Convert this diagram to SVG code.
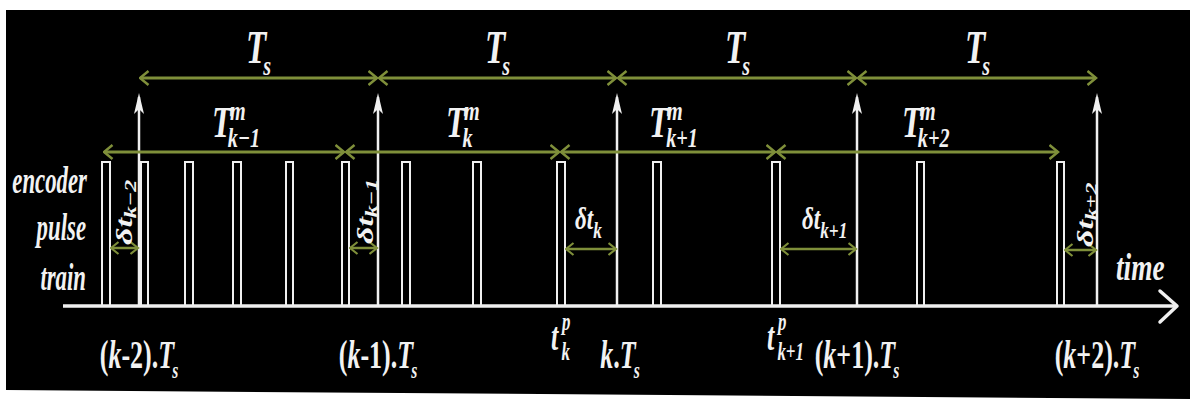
<svg xmlns="http://www.w3.org/2000/svg" width="1190" height="399" viewBox="0 0 1190 399">
<style>
.t{font-family:"Liberation Serif","Times New Roman",serif;font-weight:bold;font-style:italic;fill:#f2f2f2}
.up{font-style:normal}
.g{stroke:#7f8f3a;stroke-width:3;fill:none}
.gs{stroke:#7f8f3a;stroke-width:2.5;fill:none}
.w{stroke:#f0f0f0;fill:none}
.pulse{stroke:#f0f0f0;stroke-width:2;fill:none}
</style>
<defs>
<marker id="ga" viewBox="0 0 11 16" refX="9.5" refY="8" markerWidth="11" markerHeight="16" markerUnits="userSpaceOnUse" orient="auto-start-reverse">
<path d="M1,1 L9.5,8 L1,15" fill="none" stroke="#7f8f3a" stroke-width="2.5"/>
</marker>
<marker id="gb" viewBox="0 0 10 14" refX="8.5" refY="7" markerWidth="10" markerHeight="14" markerUnits="userSpaceOnUse" orient="auto-start-reverse">
<path d="M1,1 L8.5,7 L1,13" fill="none" stroke="#7f8f3a" stroke-width="2.2"/>
</marker>
<marker id="wa" viewBox="0 0 22 12" refX="17" refY="6" markerWidth="22" markerHeight="12" markerUnits="userSpaceOnUse" orient="auto">
<path d="M0,1 L21,6 L0,11 L5,6 Z" fill="#f0f0f0"/>
</marker>
</defs>
<rect x="0" y="0" width="1190" height="399" fill="#ffffff"/>
<polygon points="6,10 1190,10 1190,399 6,390" fill="#000000"/>

<g id="pulses">
<path class="pulse" d="M102,306 V162 H110 V306"/>
<path class="pulse" d="M141,306 V162 H148 V306"/>
<path class="pulse" d="M185,306 V162 H193 V306"/>
<path class="pulse" d="M233,306 V162 H241 V306"/>
<path class="pulse" d="M286,306 V162 H293 V306"/>
<path class="pulse" d="M342,306 V162 H349 V306"/>
<path class="pulse" d="M402,306 V162 H410 V306"/>
<path class="pulse" d="M473,306 V162 H481 V306"/>
<path class="pulse" d="M557,306 V162 H565 V306"/>
<path class="pulse" d="M653,306 V162 H661 V306"/>
<path class="pulse" d="M772,306 V162 H780 V306"/>
<path class="pulse" d="M917,306 V162 H924 V306"/>
<path class="pulse" d="M1057,306 V162 H1064 V306"/>
</g>

<g id="connectors">
<line class="w" x1="63" y1="306" x2="1176" y2="306" stroke-width="3.5"/>
<path class="w" d="M1160,291 L1177,306 L1160,322" stroke-width="3.5" stroke-linecap="round" stroke-linejoin="round"/>
<line class="w" x1="139" y1="306" x2="139" y2="97" stroke-width="2.5" marker-end="url(#wa)"/>
<line class="w" x1="378" y1="306" x2="378" y2="97" stroke-width="2.5" marker-end="url(#wa)"/>
<line class="w" x1="617" y1="306" x2="617" y2="97" stroke-width="2.5" marker-end="url(#wa)"/>
<line class="w" x1="857" y1="306" x2="857" y2="97" stroke-width="2.5" marker-end="url(#wa)"/>
<line class="w" x1="1097" y1="306" x2="1097" y2="97" stroke-width="2.5" marker-end="url(#wa)"/>
<line class="g" x1="140" y1="78" x2="377" y2="78" marker-start="url(#ga)" marker-end="url(#ga)"/>
<line class="g" x1="379" y1="78" x2="616" y2="78" marker-start="url(#ga)" marker-end="url(#ga)"/>
<line class="g" x1="618" y1="78" x2="856" y2="78" marker-start="url(#ga)" marker-end="url(#ga)"/>
<line class="g" x1="858" y1="78" x2="1096" y2="78" marker-start="url(#ga)" marker-end="url(#ga)"/>
<line class="g" x1="104" y1="152" x2="344" y2="152" marker-start="url(#ga)" marker-end="url(#ga)"/>
<line class="g" x1="346" y1="152" x2="559" y2="152" marker-start="url(#ga)" marker-end="url(#ga)"/>
<line class="g" x1="561" y1="152" x2="775" y2="152" marker-start="url(#ga)" marker-end="url(#ga)"/>
<line class="g" x1="777" y1="152" x2="1058" y2="152" marker-start="url(#ga)" marker-end="url(#ga)"/>
<line class="gs" x1="111" y1="248" x2="138" y2="248" marker-start="url(#gb)" marker-end="url(#gb)"/>
<line class="gs" x1="350" y1="248" x2="377" y2="248" marker-start="url(#gb)" marker-end="url(#gb)"/>
<line class="gs" x1="566" y1="249" x2="616" y2="249" marker-start="url(#gb)" marker-end="url(#gb)"/>
<line class="gs" x1="781" y1="249" x2="856" y2="249" marker-start="url(#gb)" marker-end="url(#gb)"/>
<line class="gs" x1="1065" y1="250" x2="1096" y2="250" marker-start="url(#gb)" marker-end="url(#gb)"/>
</g>

<g id="labels-Ts">
<text class="t" font-size="46" transform="translate(246,63) scale(0.72,1)">T<tspan font-size="28" dx="-4" dy="12">s</tspan></text>
<text class="t" font-size="46" transform="translate(485,63) scale(0.72,1)">T<tspan font-size="28" dx="-4" dy="12">s</tspan></text>
<text class="t" font-size="46" transform="translate(725,63) scale(0.72,1)">T<tspan font-size="28" dx="-4" dy="12">s</tspan></text>
<text class="t" font-size="46" transform="translate(965,63) scale(0.72,1)">T<tspan font-size="28" dx="-4" dy="12">s</tspan></text>
</g>

<g id="labels-Tm">
<text class="t" font-size="44" transform="translate(212,137) scale(0.72,1)">T<tspan x="25" y="-17" font-size="28">m</tspan><tspan x="22" y="10" font-size="28">k−1</tspan></text>
<text class="t" font-size="44" transform="translate(446,137) scale(0.72,1)">T<tspan x="25" y="-17" font-size="28">m</tspan><tspan x="23" y="10" font-size="28">k</tspan></text>
<text class="t" font-size="44" transform="translate(649,137) scale(0.72,1)">T<tspan x="25" y="-17" font-size="28">m</tspan><tspan x="24" y="10" font-size="28">k+1</tspan></text>
<text class="t" font-size="44" transform="translate(902,137) scale(0.72,1)">T<tspan x="25" y="-17" font-size="28">m</tspan><tspan x="22" y="10" font-size="28">k+2</tspan></text>
</g>

<g id="labels-left">
<text class="t" font-size="38" text-anchor="end" transform="translate(87,193) scale(0.6,1)">encoder</text>
<text class="t" font-size="38" text-anchor="end" transform="translate(86,240) scale(0.6,1)">pulse</text>
<text class="t" font-size="38" text-anchor="end" transform="translate(86,290) scale(0.6,1)">train</text>
</g>

<g id="label-time">
<text class="t" font-size="38" transform="translate(1116,280) scale(0.72,1)">time</text>
</g>

<g id="labels-dt">
<text class="t" font-size="32" transform="translate(575,229) scale(0.72,1)">δt<tspan font-size="24" dy="9">k</tspan></text>
<text class="t" font-size="32" transform="translate(802,229) scale(0.72,1)">δt<tspan font-size="24" dy="9">k+1</tspan></text>
<text class="t" font-size="34" transform="translate(132,245) scale(0.7,1) rotate(-90)">δt<tspan font-size="24" dy="6">k−2</tspan></text>
<text class="t" font-size="34" transform="translate(373,244) scale(0.7,1) rotate(-90)">δt<tspan font-size="24" dy="6">k−1</tspan></text>
<text class="t" font-size="34" transform="translate(1093,247) scale(0.7,1) rotate(-90)">δt<tspan font-size="24" dy="6">k+2</tspan></text>
</g>

<g id="labels-bottom">
<text class="t" font-size="40" text-anchor="middle" transform="translate(139,368) scale(0.65,1)"><tspan class="up">(</tspan>k<tspan class="up">-2).</tspan>T<tspan font-size="24" dx="-3" dy="10">s</tspan></text>
<text class="t" font-size="40" text-anchor="middle" transform="translate(378,368) scale(0.65,1)"><tspan class="up">(</tspan>k<tspan class="up">-1).</tspan>T<tspan font-size="24" dx="-3" dy="10">s</tspan></text>
<text class="t" font-size="40" text-anchor="middle" transform="translate(620,368) scale(0.65,1)">k<tspan class="up">.</tspan>T<tspan font-size="24" dx="-3" dy="10">s</tspan></text>
<text class="t" font-size="40" text-anchor="middle" transform="translate(857,368) scale(0.65,1)"><tspan class="up">(</tspan>k<tspan class="up">+1).</tspan>T<tspan font-size="24" dx="-3" dy="10">s</tspan></text>
<text class="t" font-size="40" text-anchor="middle" transform="translate(1097,368) scale(0.65,1)"><tspan class="up">(</tspan>k<tspan class="up">+2).</tspan>T<tspan font-size="24" dx="-3" dy="10">s</tspan></text>
<text class="t" font-size="40" transform="translate(551,350) scale(0.65,1)">t<tspan x="17" y="-20" font-size="26">p</tspan><tspan x="16" y="10" font-size="26">k</tspan></text>
<text class="t" font-size="40" transform="translate(767,350) scale(0.65,1)">t<tspan x="17" y="-20" font-size="26">p</tspan><tspan x="16" y="10" font-size="26">k+1</tspan></text>
</g>
</svg>
